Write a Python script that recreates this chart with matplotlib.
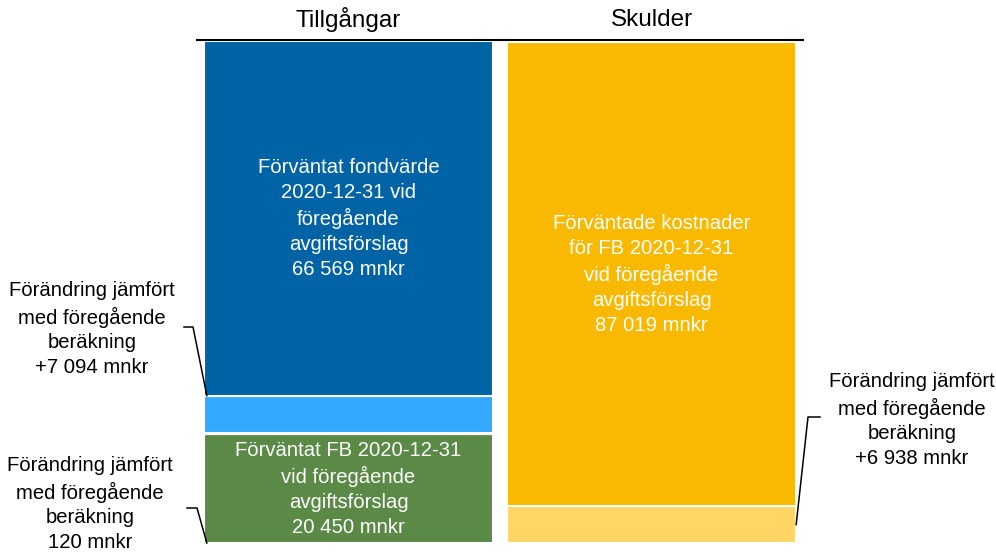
import numpy as np
import matplotlib
matplotlib.use("Agg")
import matplotlib.pyplot as plt
from matplotlib.lines import Line2D

plt.rcParams['font.family'] = ['Liberation Sans', 'DejaVu Sans']

columns = ["Tillgångar", "Skulder"]
# stacked from bottom to top
left_vals = [20450, 120, 7094, 66569]
left_cols = ["#5A8A46", "#FFFFFF", "#33AAFF", "#0063A6"]
right_vals = [6938, 87019]
right_cols = ["#FFD666", "#F9B900"]

inner_left = {0: "Förväntat FB 2020-12-31\nvid föregående\navgiftsförslag\n20 450 mnkr",
              3: "Förväntat fondvärde\n2020-12-31 vid\nföregående\navgiftsförslag\n66 569 mnkr"}
inner_right = {1: "Förväntade kostnader\nför FB 2020-12-31\nvid föregående\navgiftsförslag\n87 019 mnkr"}

change_txt = "Förändring jämfört\nmed föregående\nberäkning\n"
chg_left_top = "+7 094 mnkr"
chg_left_bot = "120 mnkr"
chg_right = "+6 938 mnkr"

W, H = 996, 555
fig = plt.figure(figsize=(W / 100, H / 100), dpi=100)
ax = fig.add_axes([197 / W, 12 / H, 606 / W, 503 / H])
ax.set_xlim(-0.5, 1.5)
ax.set_ylim(0, sum(left_vals) * 1.002)
ax.axis('off')

fs = 14.6
ls = 1.38
bw = 0.955
for xi, vals, cols, inner in [(0, left_vals, left_cols, inner_left),
                              (1, right_vals, right_cols, inner_right)]:
    bottom = 0
    for i, (v, c) in enumerate(zip(vals, cols)):
        ax.bar(xi, v, bw, bottom=bottom, color=c, edgecolor='white', linewidth=1.5)
        if i in inner:
            ax.text(xi, bottom + v / 2, inner[i], ha='center', va='center', color='white',
                    fontsize=fs, linespacing=ls)
        bottom += v

# top rule and column headers
ax.plot([0, 1], [1, 1], transform=ax.transAxes, color='black', lw=1.5, clip_on=False)
for xi, name in enumerate(columns):
    ax.text(xi, 1.0 + 20 / 503, name, transform=ax.get_xaxis_transform(), ha='center',
            va='center', fontsize=17.5, color='black')

fig.canvas.draw()

def leader(data_xy, elbow_px, stub_px):
    # elbow_px/stub_px in image pixel coords (top-left origin)
    px, py = ax.transData.transform(data_xy)
    xs = [stub_px[0], elbow_px[0], px]
    ys = [H - stub_px[1], H - elbow_px[1], py]
    fig.add_artist(Line2D(xs, ys, transform=None, color='black', lw=1.1))

left_x = -bw / 2
# +7 094 points to top of light blue segment
y_lb_top = left_vals[0] + left_vals[1] + left_vals[2]
leader((left_x + 0.01, y_lb_top), (193, 327), (184, 327))
# 120 mnkr points to bottom of the left column
leader((left_x + 0.01, 0), (197, 508), (187, 508))
# +6 938 points into the light yellow segment
leader((1 + bw / 2, right_vals[0] * 0.5), (808, 417), (820, 417))

fig.text(92 / W, 1 - 329 / H, change_txt + chg_left_top, ha='center', va='center',
         fontsize=fs, linespacing=ls)
fig.text(90 / W, 1 - 504 / H, change_txt + chg_left_bot, ha='center', va='center',
         fontsize=fs, linespacing=ls)
fig.text(912 / W, 1 - 420 / H, change_txt + chg_right, ha='center', va='center',
         fontsize=fs, linespacing=ls)

fig.savefig("out.png", dpi=100)
